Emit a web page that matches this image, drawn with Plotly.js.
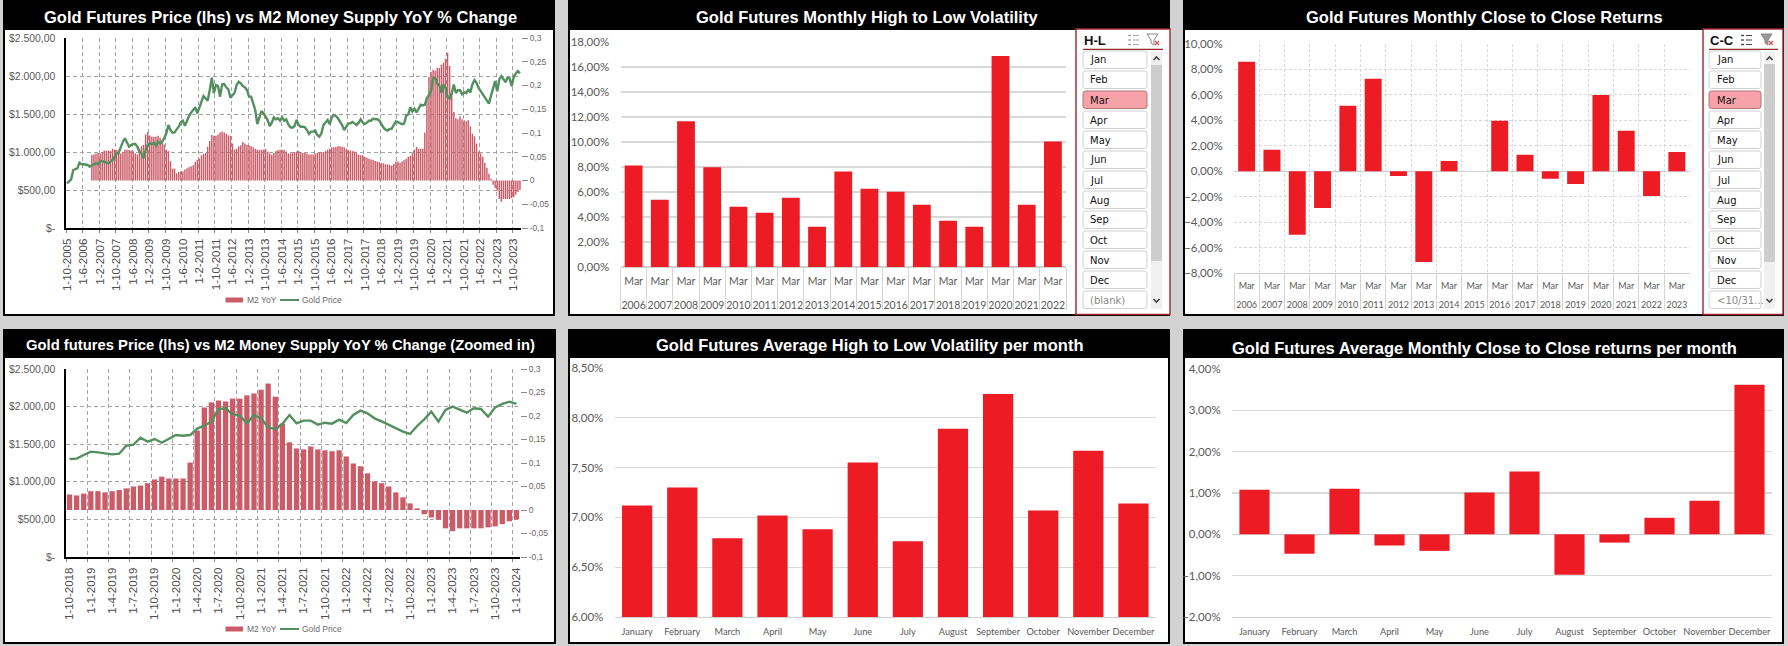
<!DOCTYPE html>
<html><head><meta charset="utf-8">
<script src="https://cdn.plot.ly/plotly-3.0.1.min.js"></script>
<style>html,body{margin:0;padding:0;background:#d2d2d2}#c{width:1788px;height:646px}</style>
</head><body><div id="c"></div>
<script>
// ---------- DATA ----------
const goldEarly = [588,610,640,763,772,785,860,838,838,838,829,807,829,838,851,842,873,882,873,860,851,873,895,939,982,991,1070,1136,1180,1123,1070,1092,1105,1105,1070,1004,982,917,1026,1092,1114,1101,1123,1083,1136,1114,1136,1180,1246,1355,1289,1254,1259,1298,1333,1390,1412,1346,1421,1474,1518,1553,1588,1509,1575,1662,1737,1706,1675,1816,1978,1772,1882,1868,1728,1890,1895,1851,1825,1715,1750,1781,1882,1925,1904,1868,1851,1816,1728,1728,1640,1553,1368,1465,1539,1509,1456,1421,1342,1386,1456,1430,1443,1412,1456,1412,1430,1364,1325,1320,1342,1421,1355,1333,1333,1325,1289,1237,1268,1268,1281,1224,1202,1246,1355,1386,1421,1364,1456,1487,1474,1443,1399,1355,1289,1333,1377,1377,1395,1377,1355,1386,1430,1386,1368,1386,1412,1412,1439,1430,1430,1412,1355,1320,1294,1281];
const goldRecent = [1303,1308,1356,1401,1392,1379,1365,1374,1480,1494,1587,1534,1569,1520,1569,1622,1613,1622,1707,1746,1800,1968,1977,1897,1879,1777,1888,1844,1724,1702,1769,1888,1777,1813,1813,1760,1786,1773,1826,1782,1888,1946,1910,1844,1804,1760,1715,1667,1636,1742,1831,1933,1800,1955,1999,1964,1919,1977,1968,1866,1990,2035,2066,2035];
const m2Early = [.053,.055,.057,.058,.057,.060,.063,.063,.063,.062,.067,.065,.064,.060,.057,.060,.065,.065,.064,.063,.061,.057,.055,.067,.072,.075,.097,.102,.095,.092,.092,.092,.094,.090,.084,.076,.065,.062,.041,.025,.025,.015,.018,.019,.019,.023,.026,.028,.030,.032,.039,.043,.046,.053,.056,.058,.071,.083,.096,.094,.094,.097,.101,.103,.101,.098,.095,.094,.078,.065,.067,.072,.074,.081,.078,.075,.074,.072,.070,.067,.065,.064,.065,.065,.067,.061,.057,.054,.058,.062,.064,.064,.065,.064,.061,.057,.057,.058,.060,.061,.062,.060,.058,.058,.057,.055,.055,.055,.057,.058,.060,.060,.060,.062,.065,.067,.070,.070,.071,.072,.072,.071,.070,.067,.064,.063,.062,.061,.058,.054,.053,.053,.050,.048,.046,.044,.043,.041,.040,.039,.037,.036,.034,.034];
const m2Recent = [.033,.031,.035,.040,.040,.0375,.040,.0425,.046,.050,.052,.057,.065,.071,.067,.067,.067,.101,.169,.218,.229,.233,.231,.237,.237,.244,.248,.256,.269,.241,.184,.144,.131,.129,.135,.129,.127,.125,.127,.114,.099,.093,.078,.061,.057,.050,.0375,.027,.014,.0035,-.009,-.016,-.021,-.039,-.045,-.039,-.039,-.039,-.039,-.037,-.035,-.030,-.024,-.020];
const m2BlankMonths = 12;
const longTickLabels = ['1-10-2005','1-6-2006','1-2-2007','1-10-2007','1-6-2008','1-2-2009','1-10-2009','1-6-2010','1-2-2011','1-10-2011','1-6-2012','1-2-2013','1-10-2013','1-6-2014','1-2-2015','1-10-2015','1-6-2016','1-2-2017','1-10-2017','1-6-2018','1-2-2019','1-10-2019','1-6-2020','1-2-2021','1-10-2021','1-6-2022','1-2-2023','1-10-2023'];
const zoomTickLabels = ['1-10-2018','1-1-2019','1-4-2019','1-7-2019','1-10-2019','1-1-2020','1-4-2020','1-7-2020','1-10-2020','1-1-2021','1-4-2021','1-7-2021','1-10-2021','1-1-2022','1-4-2022','1-7-2022','1-10-2022','1-1-2023','1-4-2023','1-7-2023','1-10-2023','1-1-2024'];
const priceTicks = [0,500,1000,1500,2000,2500];
const priceTickText = ['$-','$500,00','$1.000,00','$1.500,00','$2.000,00','$2.500,00'];
const m2Ticks = [-.1,-.05,0,.05,.1,.15,.2,.25,.3];
const m2TickText = ['-0,1','-0,05','0','0,05','0,1','0,15','0,2','0,25','0,3'];

const hlYears = ['2006','2007','2008','2009','2010','2011','2012','2013','2014','2015','2016','2017','2018','2019','2020','2021','2022'];
const hlValues = [.0812,.0539,.1166,.0799,.0483,.0434,.0555,.0322,.0764,.0627,.0603,.0499,.0370,.0322,.1689,.0499,.1005];
const ccYears = ['2006','2007','2008','2009','2010','2011','2012','2013','2014','2015','2016','2017','2018','2019','2020','2021','2022','2023'];
const ccValues = [.086,.0168,-.05,-.0289,.0514,.0727,-.0037,-.0714,.0081,0,.0396,.0129,-.006,-.01,.06,.0318,-.0194,.0152];
const monthNames = ['January','February','March','April','May','June','July','August','September','October','November','December'];
const avgHL = [.0712,.0730,.0679,.0702,.0688,.0755,.0676,.0789,.0824,.0707,.0767,.0714];
const avgCC = [.0108,-.0047,.0110,-.0027,-.0040,.0101,.0152,-.0098,-.0020,.0040,.0081,.0362];
const slicerMonths = ['Jan','Feb','Mar','Apr','May','Jun','Jul','Aug','Sep','Oct','Nov','Dec'];

// ---------- LAYOUT HELPERS ----------
const W=1788,H=646;
const RED='#ed1c24',M2='#cb5b67',GREEN='#54905f',GRID='#d9d9d9',TXT='#595959',DASH='#a3a3a3';
const FONT='"Liberation Sans", Arial, sans-serif', SOFT='Lato, "Liberation Sans", sans-serif';
const px=x=>x/W, py=y=>1-y/H;
const shapes=[],annos=[];
function rect(x0,y0,x1,y1,fill,line,lw){shapes.push({type:'rect',xref:'paper',yref:'paper',x0:px(x0),x1:px(x1),y0:py(y0),y1:py(y1),fillcolor:fill||'rgba(0,0,0,0)',line:{color:line||'rgba(0,0,0,0)',width:line?(lw||1):0},layer:'below'});}
function poly(pts,color,w,close,fill){const d=pts.map((p,i)=>(i?'L':'M')+px(p[0])+' '+py(p[1])).join(' ')+(close?' Z':'');shapes.push({type:'path',xref:'paper',yref:'paper',path:d,line:{color:color,width:w||1},fillcolor:fill||'rgba(0,0,0,0)',layer:'below'});}
function round(x0,y0,x1,y1,r,fill,line){const X=px,Y=py;const d=`M${X(x0+r)} ${Y(y0)} L${X(x1-r)} ${Y(y0)} Q${X(x1)} ${Y(y0)} ${X(x1)} ${Y(y0+r)} L${X(x1)} ${Y(y1-r)} Q${X(x1)} ${Y(y1)} ${X(x1-r)} ${Y(y1)} L${X(x0+r)} ${Y(y1)} Q${X(x0)} ${Y(y1)} ${X(x0)} ${Y(y1-r)} L${X(x0)} ${Y(y0+r)} Q${X(x0)} ${Y(y0)} ${X(x0+r)} ${Y(y0)} Z`;shapes.push({type:'path',xref:'paper',yref:'paper',path:d,line:{color:line,width:1},fillcolor:fill,layer:'below'});}
function text(s,x,y,size,color,opt){annos.push(Object.assign({xref:'paper',yref:'paper',x:px(x),y:py(y),text:s,showarrow:false,xanchor:'center',yanchor:'middle',font:{family:FONT,size:size,color:color},borderpad:0},opt||{}));}
function panel(x0,y0,x1,y1,titleBottom,title,cx,cy,size){
  rect(x0,y0,x1,y1,'#000000');
  rect(x0+2,titleBottom,x1-2,y1-2,'#ffffff');
  text('<b>'+title+'</b>',cx,cy,size,'#ffffff');
}
function slicer(o){
  rect(o.x0,29,o.x1,314.5,'#ffffff','#9a2530',1.4);
  text('<b>'+o.name+'</b>',o.btn0,40,13,'#111111',{xanchor:'left'});
  poly([[o.btn0,49.3],[o.under,49.3]],'#9a2530',1.2);
  const ix=o.icon, c=o.iconColor;
  for(let k=0;k<3;k++){poly([[ix,35.5+k*4.5],[ix+3,35.5+k*4.5]],c,1.4);poly([[ix+5,35.5+k*4.5],[ix+11,35.5+k*4.5]],c,1);}
  const f=o.funnel;
  poly([[f-6,34],[f+5,34],[f+1,40],[f+1,45],[f-2,43],[f-2,40]],o.funnelColor,1,true,o.funnelFill);
  poly([[f+2,41],[f+6,45]],'#d9534f',1.2);poly([[f+6,41],[f+2,45]],'#d9534f',1.2);
  slicerMonths.concat([o.last]).forEach((m,i)=>{
    const y=51+i*20, on=m==='Mar', muted=i===12;
    const yb=Math.min(y+17.5,309);
    round(o.btn0,y,o.btn1,yb,2.5,on?'#f7a2a8':'#ffffff',on?'#a77':'#cfcfcf');
    text(m,o.tx,y+9,10,muted?'#8a8a8a':'#111',{xanchor:'left',font:{family:'"DejaVu Sans"',size:10,color:muted?'#8a8a8a':'#111'}});
  });
  rect(o.sb0,51,o.sb1,309,'#f0f0f0');
  rect(o.sb0,o.th0,o.sb1,o.th1,'#cdcdcd');
  const m=(o.sb0+o.sb1)/2;
  poly([[m-3,60],[m,57],[m+3,60]],'#444',1.6);
  poly([[m-3,299],[m,302],[m+3,299]],'#444',1.6);
}
function drawLegend(y){
  rect(225.5,y-2.5,243,y+2.5,M2);
  text('M2 YoY',245.5,y,8.5,'#6a6a6a',{xanchor:'left'});
  poly([[280,y],[299,y]],GREEN,2);
  text('Gold Price',300.5,y,8.5,'#6a6a6a',{xanchor:'left'});
}

// ---------- PANELS ----------
panel(3,0,555,316,30,'Gold Futures Price (lhs) vs M2 Money Supply YoY % Change',280,17,16.5);
panel(3,329,556,644,358,'Gold futures Price (lhs) vs M2 Money Supply YoY % Change (Zoomed in)',280,345,14.8);
panel(568,0,1170,316,30,'Gold Futures Monthly High to Low Volatility',867,17,16.5);
panel(1183,0,1784,316,30,'Gold Futures Monthly Close to Close Returns',1484.5,17,16.5);
panel(568,329,1170,644,358,'Gold Futures Average High to Low Volatility per month',870,345,16.5);
panel(1183,329,1784,644,358,'Gold Futures Average Monthly Close to Close returns per month',1484,348,16.5);
slicer({x0:1076,x1:1170,btn0:1083,btn1:1147,tx:1089,under:1163,icon:1128,iconColor:'#a8a8a8',funnel:1153,funnelColor:'#888',funnelFill:'rgba(0,0,0,0)',sb0:1151,sb1:1162,th0:65,th1:261,name:'H-L',last:'(blank)'});
slicer({x0:1703,x1:1783,btn0:1709,btn1:1761,tx:1716,under:1778,icon:1741,iconColor:'#444',funnel:1767,funnelColor:'#888',funnelFill:'#999',sb0:1764,sb1:1775,th0:64,th1:262,name:'C-C',last:'<10/31...'});
drawLegend(300);
drawLegend(629);

// ---------- AXES ----------
const ydom=(a,b)=>[1-b/H,1-a/H];
const idx=a=>a.map((_,i)=>i);
function comboAxes(n,labels,step,x0,x1,y0,y1){
  const a1=n===1?'':n, a2=n+1;
  const boundaries=labels.map((_,k)=>k*step-0.5), centers=labels.map((_,k)=>k*step);
  const count=n===1?goldEarly.length+goldRecent.length:goldRecent.length;
  const l={};
  l['xaxis'+a1]={domain:[px(x0),px(x1)],anchor:'y'+a1,range:[-.5,count-.5],tickmode:'array',tickvals:boundaries,showticklabels:false,showgrid:true,griddash:'4px,3px',gridcolor:DASH,gridwidth:1,ticks:'outside',ticklen:3,tickcolor:'#888',showline:true,linecolor:'#000',linewidth:1.6,zeroline:false};
  l['yaxis'+a1]={domain:ydom(y0,y1),anchor:'x'+a1,side:'right',range:[-.1,.3],tickmode:'array',tickvals:m2Ticks,ticktext:m2TickText,tickfont:{family:FONT,size:8.5,color:'#6a6a6a'},ticks:'outside',ticklen:6,tickcolor:'#888',showgrid:false,zeroline:false,showline:false};
  l['xaxis'+a2]={overlaying:'x'+a1,anchor:'y'+a2,range:[-.5,count-.5],tickmode:'array',tickvals:centers,ticktext:labels,tickangle:-90,tickfont:{family:FONT,size:11.5,color:'#4d4d4d'},ticks:'outside',ticklen:5,tickcolor:'rgba(0,0,0,0)',showgrid:false,zeroline:false,showline:false,side:'bottom'};
  l['yaxis'+a2]={overlaying:'y'+a1,anchor:'x'+a2,side:'left',range:[0,2500],tickmode:'array',tickvals:priceTicks,ticktext:priceTickText,tickfont:{family:FONT,size:10.4,color:'#595959'},ticks:'outside',ticklen:7,tickcolor:'rgba(0,0,0,0)',showgrid:true,griddash:'4px,3px',gridcolor:DASH,gridwidth:1,zeroline:false,showline:true,linecolor:'#000',linewidth:1.6};
  return l;
}
function barAxes(n,x0,x1,y0,y1,yrange,dtick,dash,extraX){
  const l={};
  l['xaxis'+n]=Object.assign({domain:[px(x0),px(x1)],anchor:'y'+n,tickfont:{family:SOFT,size:10.5,color:TXT},showline:true,linecolor:'#d0d0d0',zeroline:false,showgrid:false},extraX||{});
  l['yaxis'+n]={domain:ydom(y0,y1),anchor:'x'+n,range:yrange,dtick:dtick,tick0:0,tickformat:'.2%',tickfont:{family:SOFT,size:11.5,color:TXT},gridcolor:GRID,griddash:dash?'3px,2px':'solid',gridwidth:1.2,zeroline:true,zerolinecolor:'#cfcfcf',zerolinewidth:1.2,showline:false,ticks:'outside',ticklen:8,tickcolor:'rgba(0,0,0,0)'};
  return l;
}
// two-level category labels: the year axis carries the bars and dividers, an overlay axis shows the month
function yearX(cats,tlen,standoff,fs,extra){
  return Object.assign({type:'category',categoryorder:'array',categoryarray:cats,range:[-.5,cats.length-.5],tickson:'boundaries',ticks:'outside',ticklen:tlen,tickcolor:'#d4d4d4',tickwidth:1,ticklabelstandoff:standoff,tickangle:0,tickfont:{family:SOFT,size:fs,color:TXT}},extra||{});
}
function monthX(over,cats,anchor,standoff,fs){
  return {overlaying:over,anchor:anchor,type:'category',categoryorder:'array',categoryarray:cats,range:[-.5,cats.length-.5],tickmode:'array',tickvals:cats,ticktext:cats.map(()=>'Mar'),tickangle:0,ticks:'',ticklabelstandoff:standoff,tickfont:{family:SOFT,size:fs,color:TXT},showgrid:false,zeroline:false,showline:false};
}
const flatX={tickangle:0,ticks:'outside',ticklen:6,tickcolor:'rgba(0,0,0,0)',type:'category',tickfont:{family:SOFT,size:9.2,color:TXT}};

const layout=Object.assign({
  width:W,height:H,margin:{l:0,r:0,t:0,b:0},paper_bgcolor:'#d2d2d2',plot_bgcolor:'rgba(0,0,0,0)',separators:',.',
  shapes:shapes,annotations:annos,showlegend:false
},
 comboAxes(1,longTickLabels,8,66,521,38,228),
 comboAxes(3,zoomTickLabels,3,66,520,369,557),
 barAxes(5,620.5,1066,42,267,[0,.18],.02,false,yearX(hlYears,42,28,10.5)),
 barAxes(6,1234,1689.5,44,273,[-.08,.10],.02,true,yearX(ccYears,36,23,9,{showgrid:true,griddash:'3px,2px',gridcolor:GRID})),
 barAxes(7,614.6,1156,368,617,[.06,.085],.005,false,flatX),
 barAxes(8,1232,1772,369,617,[-.02,.04],.01,false,flatX),
 {xaxis9:monthX('x5',hlYears,'y5',6,10.5),xaxis10:monthX('x6',ccYears,'y6',6,9)}
);

// ---------- TRACES ----------
const goldAll=goldEarly.concat(goldRecent), m2All=m2Early.concat(m2Recent);
const traces=[
 {type:'bar',name:'M2 YoY',x:idx(m2All).map(i=>i+m2BlankMonths),y:m2All,xaxis:'x',yaxis:'y',marker:{color:M2,line:{width:0}},width:.7},
 {type:'scatter',mode:'lines',name:'Gold Price',x:idx(goldAll),y:goldAll,xaxis:'x2',yaxis:'y2',line:{color:GREEN,width:2.4}},
 {type:'bar',name:'M2 YoY',x:idx(m2Recent),y:m2Recent,xaxis:'x3',yaxis:'y3',marker:{color:M2,line:{width:0}},width:.75},
 {type:'scatter',mode:'lines',name:'Gold Price',x:idx(goldRecent),y:goldRecent,xaxis:'x4',yaxis:'y4',line:{color:GREEN,width:2.4}},
 {type:'bar',x:hlYears,y:hlValues,xaxis:'x5',yaxis:'y5',marker:{color:RED},width:.68},
 {type:'bar',x:ccYears,y:ccValues,xaxis:'x6',yaxis:'y6',marker:{color:RED},width:.67},
 {type:'bar',x:monthNames,y:avgHL,xaxis:'x7',yaxis:'y7',marker:{color:RED},width:.67},
 {type:'bar',x:monthNames,y:avgCC,xaxis:'x8',yaxis:'y8',marker:{color:RED},width:.67},
 {type:'scatter',mode:'markers',x:hlYears,y:hlValues,xaxis:'x9',yaxis:'y5',marker:{opacity:0},hoverinfo:'skip'},
 {type:'scatter',mode:'markers',x:ccYears,y:ccValues,xaxis:'x10',yaxis:'y6',marker:{opacity:0},hoverinfo:'skip'}
];
Plotly.newPlot('c',traces,layout,{displayModeBar:false,staticPlot:true});
</script></body></html>
